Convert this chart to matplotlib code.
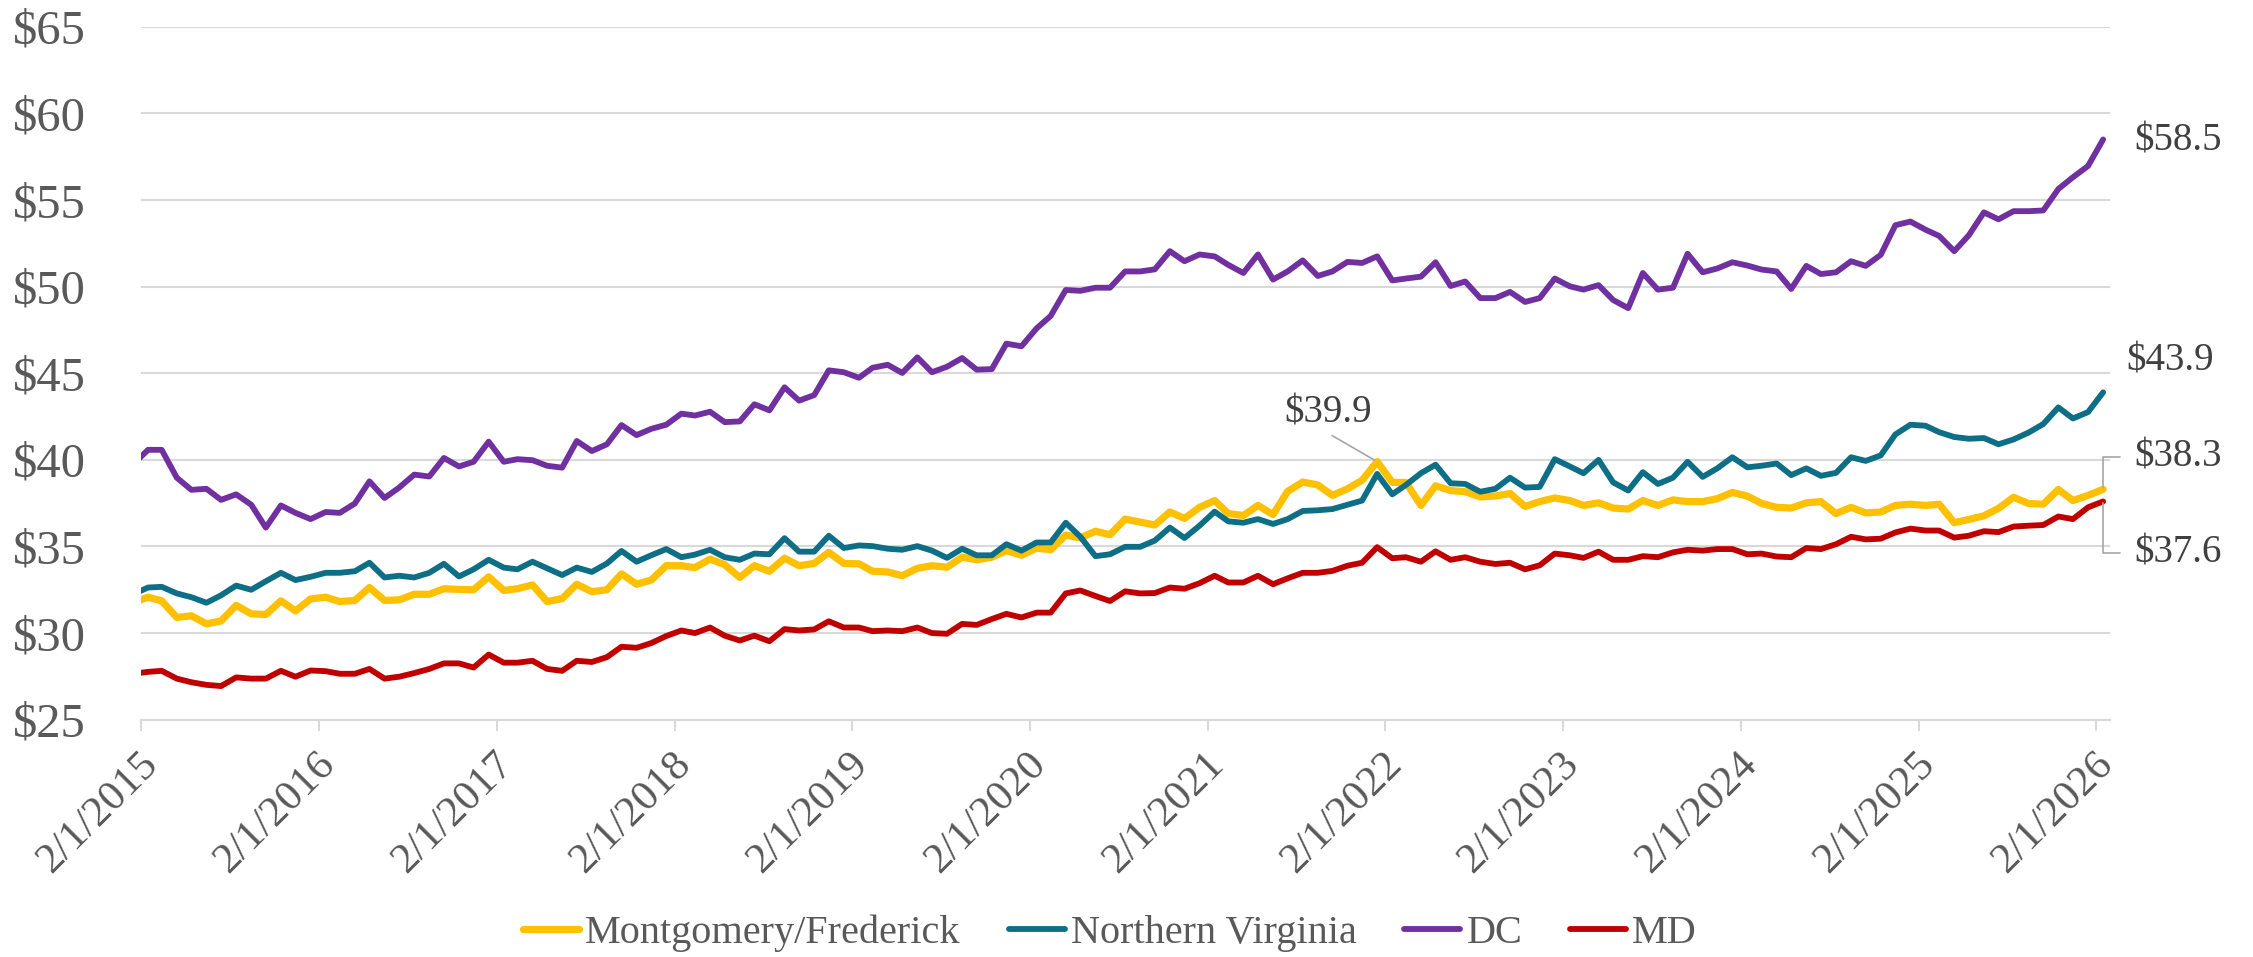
"""Hourly wage lines for the DC region, monthly Feb 2015 - Feb 2026."""

import matplotlib

matplotlib.use("Agg")
import matplotlib.pyplot as plt
from matplotlib.ticker import FuncFormatter
from matplotlib.transforms import ScaledTranslation
import pandas as pd

FIRST_MONTH = "2015-01-01"
LAST_MONTH = "2026-02-01"

MONT_FRED = [
    31.77, 32.07, 31.86, 30.90, 31.00, 30.53, 30.70, 31.60, 31.11, 31.07, 31.86, 31.28,
    31.97, 32.07, 31.82, 31.88, 32.63, 31.88, 31.92, 32.24, 32.24, 32.56, 32.52, 32.50,
    33.25, 32.46, 32.56, 32.78, 31.82, 31.99, 32.82, 32.39, 32.50, 33.42, 32.82, 33.06,
    33.89, 33.89, 33.78, 34.27, 33.95, 33.21, 33.89, 33.57, 34.32, 33.89, 34.02, 34.66,
    34.02, 34.00, 33.57, 33.53, 33.31, 33.74, 33.89, 33.80, 34.38, 34.23, 34.38, 34.76,
    34.49, 34.91, 34.81, 35.66, 35.49, 35.88, 35.68, 36.58, 36.41, 36.24, 36.99, 36.62,
    37.26, 37.65, 36.90, 36.79, 37.37, 36.84, 38.18, 38.72, 38.55, 37.95, 38.33, 38.82,
    39.90, 38.70, 38.70, 37.37, 38.50, 38.23, 38.16, 37.86, 37.91, 38.06, 37.31, 37.59,
    37.80, 37.65, 37.37, 37.52, 37.22, 37.16, 37.65, 37.37, 37.69, 37.59, 37.59, 37.76,
    38.12, 37.91, 37.49, 37.26, 37.22, 37.52, 37.59, 36.90, 37.26, 36.94, 36.99, 37.37,
    37.44, 37.37, 37.44, 36.37, 36.56, 36.77, 37.20, 37.84, 37.48, 37.44, 38.29, 37.65,
    37.95, 38.30,
]

NOVA = [
    32.24, 32.63, 32.67, 32.29, 32.07, 31.75, 32.18, 32.74, 32.50, 32.99, 33.48, 33.06,
    33.25, 33.48, 33.48, 33.57, 34.06, 33.21, 33.31, 33.21, 33.48, 34.00, 33.27, 33.68,
    34.23, 33.78, 33.68, 34.12, 33.74, 33.35, 33.78, 33.53, 34.02, 34.74, 34.12, 34.49,
    34.85, 34.38, 34.53, 34.81, 34.38, 34.23, 34.59, 34.55, 35.48, 34.70, 34.70, 35.62,
    34.91, 35.06, 35.02, 34.87, 34.81, 35.02, 34.76, 34.34, 34.87, 34.49, 34.49, 35.13,
    34.76, 35.23, 35.23, 36.37, 35.56, 34.44, 34.55, 34.98, 34.98, 35.34, 36.09, 35.49,
    36.20, 37.01, 36.45, 36.37, 36.58, 36.30, 36.58, 37.05, 37.09, 37.16, 37.41, 37.65,
    39.19, 38.01, 38.55, 39.23, 39.72, 38.65, 38.61, 38.16, 38.33, 38.97, 38.40, 38.44,
    40.04, 39.62, 39.23, 40.00, 38.70, 38.23, 39.29, 38.61, 38.97, 39.89, 39.02, 39.51,
    40.15, 39.57, 39.66, 39.79, 39.12, 39.51, 39.08, 39.25, 40.15, 39.94, 40.26, 41.47,
    42.03, 41.97, 41.60, 41.32, 41.22, 41.26, 40.90, 41.18, 41.58, 42.07, 43.03, 42.39,
    42.76, 43.90,
]

DC = [
    39.74, 40.58, 40.58, 38.97, 38.27, 38.33, 37.69, 38.01, 37.41, 36.09, 37.37, 36.94,
    36.58, 36.99, 36.94, 37.48, 38.76, 37.80, 38.40, 39.15, 39.04, 40.11, 39.62, 39.89,
    41.05, 39.89, 40.04, 39.98, 39.66, 39.55, 41.09, 40.51, 40.90, 42.01, 41.43, 41.79,
    42.03, 42.67, 42.56, 42.78, 42.18, 42.22, 43.21, 42.86, 44.19, 43.42, 43.74, 45.17,
    45.06, 44.74, 45.32, 45.49, 45.02, 45.92, 45.06, 45.38, 45.88, 45.21, 45.24, 46.71,
    46.56, 47.59, 48.31, 49.81, 49.76, 49.94, 49.94, 50.88, 50.88, 51.00, 52.05, 51.47,
    51.86, 51.75, 51.26, 50.79, 51.86, 50.41, 50.88, 51.52, 50.62, 50.88, 51.43, 51.37,
    51.75, 50.36, 50.47, 50.58, 51.41, 50.04, 50.30, 49.34, 49.34, 49.70, 49.12, 49.34,
    50.47, 50.02, 49.83, 50.09, 49.23, 48.76, 50.79, 49.83, 49.94, 51.90, 50.83, 51.05,
    51.41, 51.22, 50.99, 50.88, 49.87, 51.20, 50.73, 50.83, 51.47, 51.20, 51.84, 53.55,
    53.76, 53.29, 52.93, 52.05, 52.97, 54.29, 53.89, 54.36, 54.36, 54.40, 55.64, 56.32,
    56.97, 58.50,
]

MD = [
    27.65, 27.76, 27.82, 27.37, 27.16, 27.01, 26.94, 27.44, 27.37, 27.37, 27.82, 27.48,
    27.84, 27.80, 27.65, 27.65, 27.93, 27.37, 27.48, 27.69, 27.93, 28.25, 28.25, 28.01,
    28.76, 28.29, 28.29, 28.40, 27.93, 27.82, 28.40, 28.33, 28.61, 29.21, 29.15, 29.42,
    29.83, 30.15, 30.00, 30.32, 29.85, 29.57, 29.85, 29.53, 30.23, 30.15, 30.21, 30.68,
    30.32, 30.32, 30.11, 30.15, 30.11, 30.32, 30.00, 29.96, 30.53, 30.47, 30.81, 31.11,
    30.90, 31.18, 31.18, 32.29, 32.46, 32.14, 31.85, 32.41, 32.29, 32.31, 32.63, 32.56,
    32.88, 33.31, 32.92, 32.92, 33.31, 32.82, 33.16, 33.48, 33.48, 33.59, 33.89, 34.06,
    34.96, 34.32, 34.38, 34.12, 34.72, 34.23, 34.38, 34.12, 33.99, 34.06, 33.68, 33.91,
    34.59, 34.49, 34.34, 34.70, 34.23, 34.23, 34.44, 34.38, 34.66, 34.81, 34.76, 34.85,
    34.85, 34.55, 34.59, 34.42, 34.38, 34.91, 34.85, 35.13, 35.56, 35.41, 35.45, 35.81,
    36.03, 35.92, 35.92, 35.51, 35.62, 35.88, 35.83, 36.15, 36.20, 36.24, 36.73, 36.58,
    37.26, 37.60,
]

Y_TICKS = [25, 30, 35, 40, 45, 50, 55, 60, 65]


def main():
    plt.rcParams["font.family"] = ["Liberation Serif", "DejaVu Serif"]

    # monthly points sit mid-month, ticks fall on 2/1 of each year
    months = pd.date_range(FIRST_MONTH, LAST_MONTH, freq="MS") + pd.Timedelta(days=14)
    ticks = pd.date_range("2015-02-01", "2026-02-01", freq="12MS")

    fig = plt.figure(figsize=(22.53, 9.57), dpi=100)
    ax = fig.add_axes([0.0627, 0.248, 0.8738, 0.7239])

    series = [
        ("Montgomery/Frederick", MONT_FRED, "#FFC000", 5.2),
        ("Northern Virginia", NOVA, "#0E6E86", 4.2),
        ("DC", DC, "#7030A0", 4.2),
        ("MD", MD, "#C00000", 4.2),
    ]
    for name, vals, color, lw in series:
        ax.plot(months, vals, color=color, lw=lw, label=name,
                solid_joinstyle="round", solid_capstyle="round")

    ax.set_xlim(pd.Timestamp("2015-02-01"), pd.Timestamp("2026-03-01"))
    ax.set_ylim(25, 65)
    ax.set_yticks(Y_TICKS)
    ax.yaxis.set_major_formatter(FuncFormatter(lambda v, _: f"${v:.0f}"))
    ax.set_xticks(ticks)
    ax.set_xticklabels([f"{d.month}/{d.day}/{d.year}" for d in ticks])

    ax.yaxis.grid(True, color="#d9d9d9", lw=1.5)
    ax.set_axisbelow(True)
    for side in ("top", "right", "left"):
        ax.spines[side].set_visible(False)
    ax.spines["bottom"].set_color("#d9d9d9")
    ax.spines["bottom"].set_linewidth(1.5)

    ax.tick_params(axis="y", length=0, pad=40, labelsize=35, labelcolor="#595959")
    ax.tick_params(axis="x", length=8, width=1.5, color="#d9d9d9", direction="out",
                   pad=20, labelsize=31, labelcolor="#595959")
    shift = ScaledTranslation(0.104, 0, fig.dpi_scale_trans)
    for lbl in ax.get_xticklabels():
        lbl.set_rotation(45)
        lbl.set_ha("right")
        lbl.set_va("center")
        lbl.set_rotation_mode("anchor")
        lbl.set_transform(lbl.get_transform() + shift)

    # value call-outs
    txt = dict(textcoords="offset points", fontsize=28, color="#404040",
               annotation_clip=False)
    lead = dict(arrowstyle="-", color="#a6a6a6", lw=1.2)
    elbow = dict(lead, connectionstyle="angle,angleA=180,angleB=90,rad=0",
                 relpos=(0, 0.5), shrinkA=9, shrinkB=1)

    ax.annotate(f"${DC[-1]:.1f}", (months[-1], DC[-1]), xytext=(22.8, -1.4),
                ha="left", va="center", **txt)
    ax.annotate(f"${NOVA[-1]:.1f}", (months[-1], NOVA[-1]), xytext=(16.9, 22.3),
                ha="left", va="center", **txt)
    ax.annotate(f"${MONT_FRED[-1]:.1f}", (months[-1], MONT_FRED[-1]), xytext=(22.8, 23.4),
                ha="left", va="center", arrowprops=elbow, **txt)
    ax.annotate(f"${MD[-1]:.1f}", (months[-1], MD[-1]), xytext=(22.8, -37.1),
                ha="left", va="center", arrowprops=elbow, **txt)

    peak = max(range(len(MONT_FRED)), key=MONT_FRED.__getitem__)
    ax.annotate(f"${MONT_FRED[peak]:.1f}", (months[peak], MONT_FRED[peak]),
                xytext=(-35, 35), ha="center", va="center",
                arrowprops=dict(lead, relpos=(0.46, 0), shrinkA=2, shrinkB=2), **txt)

    leg = fig.legend(loc="center", bbox_to_anchor=(0.4927, 0.025), ncol=4, frameon=False,
                     fontsize=29, handlelength=1.39, handletextpad=0.15,
                     columnspacing=1.19, borderpad=0.1)
    for t in leg.get_texts():
        t.set_color("#595959")

    fig.savefig("out.png", dpi=100)


if __name__ == "__main__":
    main()
